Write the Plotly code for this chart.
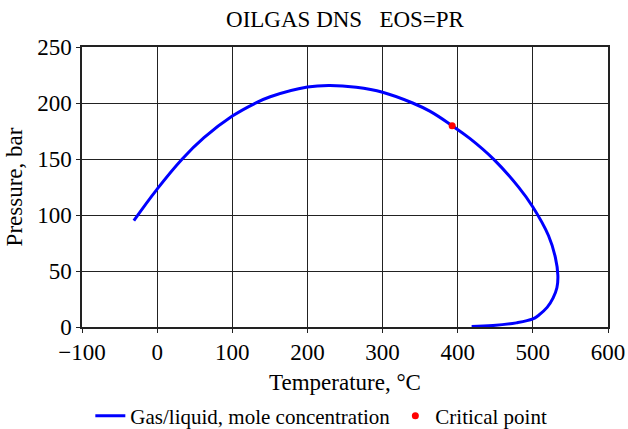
import plotly.graph_objects as go

# Phase envelope (gas/liquid)
temperature_c = [-31, 0, 33.4, 62.3, 100, 130, 150.5, 200, 230, 265, 300,
                 340, 362.8, 392.6, 416, 448, 481, 500, 520.9, 530, 533.3,
                 532, 527, 519, 507, 500, 478, 447, 418.5]
pressure_bar = [94.9, 123.1, 150, 169, 188.3, 199.6, 205.6, 214.3, 215.7, 214.0, 209.6,
                200, 192.7, 179.7, 168.4, 149.7, 124.9, 107.2, 81.5, 62, 46,
                35, 26, 17.5, 10.1, 7.2, 3.7, 1.3, 0.5]

critical_t = [392.6]
critical_p = [179.7]

x_ticks = [-100, 0, 100, 200, 300, 400, 500, 600]
x_tick_text = ["\u2212100", "0", "100", "200", "300", "400", "500", "600"]
y_ticks = [0, 50, 100, 150, 200, 250]

font_family = "Liberation Serif, Times New Roman, serif"

fig = go.Figure()
fig.add_trace(go.Scatter(
    x=temperature_c, y=pressure_bar, mode="lines",
    line=dict(color="#0000ff", width=3, shape="spline", smoothing=1.2, simplify=False),
    name="Gas/liquid, mole concentration",
))
fig.add_trace(go.Scatter(
    x=critical_t, y=critical_p, mode="markers",
    marker=dict(color="#ff0000", size=7),
    name="Critical point",
))

fig.update_layout(
    width=628, height=429,
    margin=dict(l=82, r=20, t=47, b=102),
    paper_bgcolor="white", plot_bgcolor="white",
    font=dict(family=font_family, size=22, color="black"),
    title=dict(text="OILGAS DNS\u00a0\u00a0\u00a0EOS=PR", x=(82 + 608) / 2 / 628,
               xanchor="center", y=1 - 19 / 429, yanchor="middle",
               font=dict(family=font_family, size=23, color="black")),
    showlegend=True,
    legend=dict(orientation="h", x=0.455, xanchor="center",
                yref="container", y=(429 - 416) / 429, yanchor="middle",
                font=dict(family=font_family, size=21, color="black"),
                bgcolor="rgba(0,0,0,0)", itemwidth=30, tracegroupgap=0),
)
fig.update_xaxes(
    range=[-100, 600], tickvals=x_ticks, ticktext=x_tick_text, automargin=False,
    showgrid=True, gridcolor="#222222", gridwidth=1.3,
    showline=True, linecolor="#222222", linewidth=1.5, mirror=True,
    zeroline=False, ticks="outside", ticklen=4, tickcolor="#222222",
    tickfont=dict(family=font_family, size=23, color="black"),
    title=dict(text="Temperature, \u00b0C", standoff=14,
               font=dict(family=font_family, size=23, color="black")),
)
fig.update_yaxes(
    range=[0, 250], tickvals=y_ticks, automargin=False,
    showgrid=True, gridcolor="#222222", gridwidth=1.3,
    showline=True, linecolor="#222222", linewidth=1.5, mirror=True,
    zeroline=False, ticks="outside", ticklen=4, tickcolor="#222222",
    tickfont=dict(family=font_family, size=23, color="black"),
    title=dict(text="Pressure, bar", standoff=8,
               font=dict(family=font_family, size=23, color="black")),
)

fig.write_html("out.html")
